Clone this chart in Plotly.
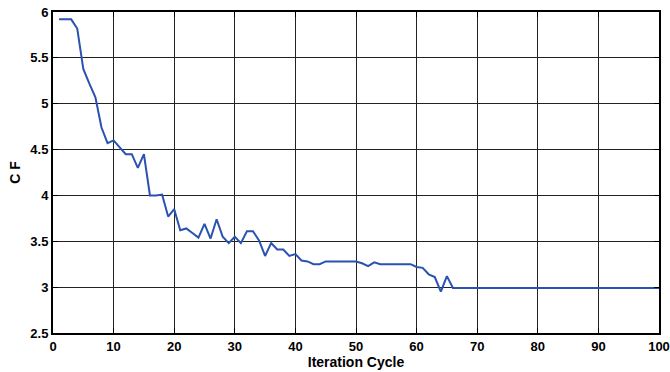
import plotly.graph_objects as go

# Cost function value per iteration cycle
iterations = list(range(1, 101))
cf_head = [5.92, 5.92, 5.92, 5.82, 5.38, 5.22, 5.07, 4.74, 4.57, 4.60,
           4.52, 4.45, 4.45, 4.30, 4.45, 4.00, 4.00, 4.01, 3.77, 3.85,
           3.62, 3.64, 3.59, 3.54, 3.69, 3.53, 3.74, 3.55, 3.48, 3.55,
           3.48, 3.61, 3.61, 3.51, 3.34, 3.48, 3.41, 3.41, 3.34, 3.36,
           3.29, 3.28, 3.25, 3.25, 3.28, 3.28, 3.28, 3.28, 3.28, 3.28,
           3.26, 3.23, 3.27, 3.25, 3.25, 3.25, 3.25, 3.25, 3.25, 3.22,
           3.21, 3.14, 3.11, 2.95, 3.12]
cf_tail = [2.99] * 35
cf_values = cf_head + cf_tail

x_ticks = [0, 10, 20, 30, 40, 50, 60, 70, 80, 90, 100]
y_ticks = [2.5, 3, 3.5, 4, 4.5, 5, 5.5, 6]

fig = go.Figure()
fig.add_trace(go.Scatter(
    x=iterations, y=cf_values, mode="lines",
    line=dict(color="#2A52B0", width=2),
    showlegend=False,
))

tick_font = dict(family="Liberation Sans, Arial, sans-serif", size=13,
                 color="black", weight="bold")
title_font = dict(family="Liberation Sans, Arial, sans-serif", size=14,
                  color="black", weight="bold")

common = dict(
    showgrid=True, gridcolor="#222222", gridwidth=1,
    showline=True, linecolor="black", linewidth=2, mirror="allticks",
    ticks="inside", ticklen=5, tickcolor="black",
    tickfont=tick_font, zeroline=False, automargin=False,
)

fig.update_xaxes(range=[0, 100], tickvals=x_ticks,
                 ticktext=[str(v) for v in x_ticks],
                 title=dict(text="Iteration Cycle", font=title_font, standoff=0),
                 **common)
fig.update_yaxes(range=[2.5, 6], tickvals=y_ticks,
                 ticktext=[f"{v:g}" for v in y_ticks],
                 title=dict(text="C F", font=title_font, standoff=6),
                 **common)

fig.update_layout(
    width=670, height=372,
    margin=dict(l=53, r=11, t=12, b=39),
    paper_bgcolor="white", plot_bgcolor="white",
)

fig.write_html("out.html")
